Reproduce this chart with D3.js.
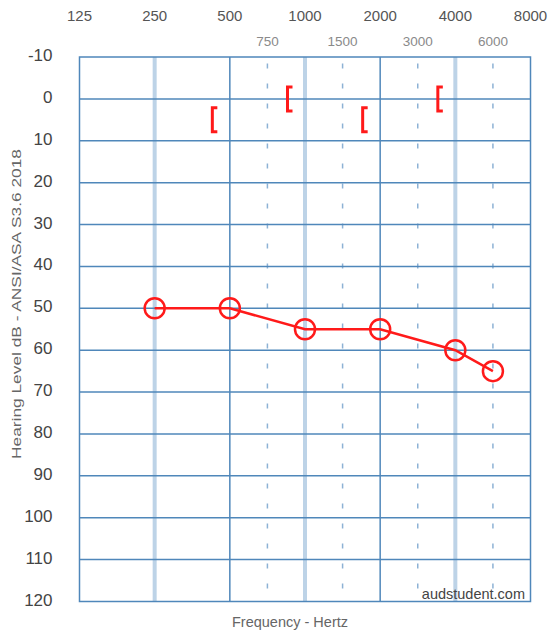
<!DOCTYPE html>
<html>
<head>
<meta charset="utf-8">
<script src="https://cdn.jsdelivr.net/npm/d3@7"></script>
<style>
  html, body { margin: 0; padding: 0; background: #fff; }
  svg { display: block; font-family: "Liberation Sans", Arial, sans-serif; }
</style>
</head>
<body>
<div id="chart"></div>
<script>
// Audiogram: right ear, air conduction (O) and masked bone conduction ([)
const octaveFreqs = [125, 250, 500, 1000, 2000, 4000, 8000];
const interOctaveFreqs = [750, 1500, 3000, 6000];
const thickLineFreqs = [250, 1000, 4000];
const thinLineFreqs = [500, 2000];
const levelTicks = [-10, 0, 10, 20, 30, 40, 50, 60, 70, 80, 90, 100, 110, 120];

const airFreqs = [250, 500, 1000, 2000, 4000, 6000];
const airLevels = [50, 50, 55, 55, 60, 65];

const boneFreqs = [500, 1000, 2000, 4000];
const boneLevels = [5, 0, 5, 0];

const width = 548, height = 637;
const plot = { left: 79.5, right: 530.5, top: 57, bottom: 601.5 };

// Octaves are evenly spaced; inter-octave frequencies sit midway between them.
function octavePos(f) {
  const i = Math.log2(f / 125);
  return Math.abs(i - Math.round(i)) < 1e-9 ? Math.round(i) : Math.floor(i) + 0.5;
}

const x = d3.scaleLinear().domain([0, 6]).range([plot.left, plot.right]);
const y = d3.scaleLinear().domain([-10, 120]).range([plot.top, plot.bottom]);
const fx = f => x(octavePos(f));

const svg = d3.select("#chart").append("svg")
  .attr("width", width).attr("height", height);

const gridBlue = "#4f87ba";

// Thick pale frequency lines
svg.append("g").selectAll("line").data(thickLineFreqs).join("line")
  .attr("x1", d => fx(d)).attr("x2", d => fx(d))
  .attr("y1", plot.top).attr("y2", plot.bottom)
  .attr("stroke", "#bdd3e7").attr("stroke-width", 4);

// Dashed inter-octave lines
svg.append("g").selectAll("line").data(interOctaveFreqs).join("line")
  .attr("x1", d => fx(d)).attr("x2", d => fx(d))
  .attr("y1", plot.top).attr("y2", plot.bottom)
  .attr("stroke", "#8db2d5").attr("stroke-width", 1.5)
  .attr("stroke-dasharray", "5,15").attr("stroke-dashoffset", -6.5);

// Thin dark frequency lines
svg.append("g").selectAll("line").data(thinLineFreqs).join("line")
  .attr("x1", d => fx(d)).attr("x2", d => fx(d))
  .attr("y1", plot.top).attr("y2", plot.bottom)
  .attr("stroke", gridBlue).attr("stroke-width", 1.5);

// Horizontal level lines
svg.append("g").selectAll("line").data(levelTicks.slice(1, -1)).join("line")
  .attr("x1", plot.left).attr("x2", plot.right)
  .attr("y1", d => y(d)).attr("y2", d => y(d))
  .attr("stroke", gridBlue).attr("stroke-width", 1.5);

// Frame
svg.append("rect")
  .attr("x", plot.left).attr("y", plot.top)
  .attr("width", plot.right - plot.left).attr("height", plot.bottom - plot.top)
  .attr("fill", "none").attr("stroke", gridBlue).attr("stroke-width", 1.5);

// Top frequency labels
svg.append("g").selectAll("text").data(octaveFreqs).join("text")
  .attr("x", d => fx(d)).attr("y", 20.5)
  .attr("text-anchor", "middle").attr("font-size", 15).attr("fill", "#555")
  .text(d => d);

svg.append("g").selectAll("text").data(interOctaveFreqs).join("text")
  .attr("x", d => fx(d)).attr("y", 45.5)
  .attr("text-anchor", "middle").attr("font-size", 13.5).attr("fill", "#8a8a8a")
  .text(d => d);

// Level labels
svg.append("g").selectAll("text").data(levelTicks).join("text")
  .attr("x", 52.5).attr("y", d => y(d) + 4)
  .attr("text-anchor", "end").attr("font-size", 17).attr("fill", "#444")
  .text(d => d);

// Axis titles
svg.append("text")
  .attr("transform", "translate(21,304) rotate(-90)")
  .attr("text-anchor", "middle").attr("font-size", 13).attr("fill", "#666")
  .attr("textLength", 310).attr("lengthAdjust", "spacingAndGlyphs")
  .text("Hearing Level dB - ANSI/ASA S3.6 2018");

svg.append("text")
  .attr("x", 290).attr("y", 627)
  .attr("text-anchor", "middle").attr("font-size", 14.5).attr("fill", "#666")
  .text("Frequency - Hertz");

svg.append("text")
  .attr("x", 525).attr("y", 598.5)
  .attr("text-anchor", "end").attr("font-size", 14.5).attr("fill", "#444")
  .text("audstudent.com");

// Air conduction line and symbols
const red = "#ff1a1a";
const airData = airFreqs.map((f, i) => ({ f, v: airLevels[i] }));

svg.append("path")
  .datum(airData)
  .attr("fill", "none").attr("stroke", red).attr("stroke-width", 2.5)
  .attr("d", d3.line().x(d => fx(d.f)).y(d => y(d.v)));

svg.append("g").selectAll("circle").data(airData).join("circle")
  .attr("cx", d => fx(d.f)).attr("cy", d => y(d.v)).attr("r", 10)
  .attr("fill", "none").attr("stroke", red).attr("stroke-width", 2.5);

// Masked bone conduction brackets, drawn left of each frequency line
const boneData = boneFreqs.map((f, i) => ({ f, v: boneLevels[i] }));
svg.append("g").selectAll("path").data(boneData).join("path")
  .attr("fill", "none").attr("stroke", red).attr("stroke-width", 3)
  .attr("d", d => {
    const cx = fx(d.f) - 17.5, cy = y(d.v), h = 12;
    return `M${cx + 5},${cy - h} H${cx} V${cy + h} H${cx + 5}`;
  });
</script>
</body>
</html>
